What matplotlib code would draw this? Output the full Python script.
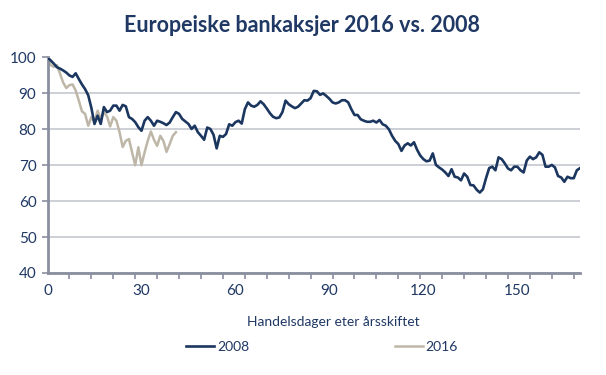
import matplotlib
matplotlib.use("Agg")
import matplotlib.pyplot as plt
from matplotlib.ticker import MultipleLocator, FixedLocator

# ---- data -----------------------------------------------------------
series_2008 = [
    100, 99.2, 98.3, 97.3, 96.9, 96.4, 95.8, 95.0, 94.6, 95.6,
    94.0, 92.5, 91.2, 89.5, 86.0, 81.5, 83.8, 81.5, 86.2, 84.8,
    85.2, 86.6, 86.6, 85.2, 86.8, 86.4, 83.4, 82.9, 82.0, 80.6,
    79.6, 82.4, 83.4, 82.4, 81.0, 82.4, 82.1, 81.7, 81.2, 81.9,
    83.4, 84.8, 84.3, 82.9, 82.2, 81.5, 80.1, 81.0, 79.2, 78.2,
    77.1, 80.5, 80.1, 78.5, 74.7, 78.2, 77.9, 78.7, 81.4, 81.0,
    82.0, 82.4, 81.6, 85.6, 87.5, 86.6, 86.3, 86.8, 87.8, 87.0,
    85.8, 84.5, 83.5, 83.1, 83.3, 84.8, 88.0, 87.0, 86.4, 85.9,
    86.3, 87.2, 88.1, 88.0, 88.7, 90.7, 90.6, 89.6, 90.0, 89.3,
    88.5, 87.5, 87.2, 87.5, 88.1, 88.1, 87.5, 85.6, 84.0, 84.0,
    82.8, 82.4, 82.1, 82.1, 82.4, 81.9, 82.6, 81.4, 81.0, 80.0,
    78.2, 76.8, 75.9, 74.0, 75.5, 76.1, 75.5, 76.4, 74.3, 72.7,
    71.7, 71.1, 71.3, 73.3, 70.1, 69.4, 68.8, 68.0, 67.0, 68.9,
    66.8, 66.6, 65.8, 67.7, 66.8, 64.5, 64.4, 63.2, 62.4, 63.3,
    66.4, 69.2, 69.6, 68.6, 72.2, 71.7, 70.5, 69.1, 68.6, 69.6,
    69.6, 68.6, 68.0, 71.3, 72.4, 71.7, 72.2, 73.6, 72.9, 69.6,
    69.6, 70.1, 69.4, 67.0, 66.6, 65.4, 66.8, 66.4, 66.4, 68.6,
    69.2,
]
series_2016 = [
    100, 97.9, 97.4, 97.9, 95.5, 93.0, 91.5, 92.3, 92.5, 90.8,
    88.0, 85.0, 84.3, 81.0, 83.4, 82.0, 85.2, 82.9, 84.8, 83.6,
    80.8, 83.4, 82.4, 79.2, 75.1, 76.8, 77.3, 73.6, 70.0, 75.0,
    70.0, 73.6, 76.8, 79.4, 77.1, 75.4, 78.2, 76.8, 73.7, 75.9,
    78.2, 79.2,
]
days_2008 = list(range(len(series_2008)))
days_2016 = list(range(len(series_2016)))

x_tick_labels = [0, 30, 60, 90, 120, 150]
y_ticks = [40, 50, 60, 70, 80, 90, 100]

title = "Europeiske bankaksjer 2016 vs. 2008"
x_label = "Handelsdager eter årsskiftet"
legend_labels = ["2008", "2016"]

# ---- style ----------------------------------------------------------
FONT = ["Lato", "DejaVu Sans"]
plt.rcParams["font.family"] = FONT
TEXT = "#1F3864"
NAVY = "#1B365F"
BEIGE = "#BEB7A8"
GRID = "#C8CBD2"
SPINE = "#8A8FA0"

fig = plt.figure(figsize=(6.06, 3.75), dpi=100)
ax = fig.add_axes([47.5 / 606, 1 - 273 / 375, (580 - 47.5) / 606, (273 - 57.5) / 375])

ax.plot(days_2008, series_2008, color=NAVY, lw=1.9, solid_joinstyle="round",
        label=legend_labels[0], zorder=3)
ax.plot(days_2016, series_2016, color=BEIGE, lw=1.8, solid_joinstyle="round",
        label=legend_labels[1], zorder=2)

ax.set_xlim(0, len(series_2008) - 1)
ax.set_ylim(40, 100)

ax.set_yticks(y_ticks)
ax.yaxis.grid(True, color=GRID, lw=1.3)
ax.set_axisbelow(True)
ax.tick_params(axis="y", length=4, width=1.2, color=SPINE, labelcolor=TEXT,
               labelsize=11, pad=4)

ax.xaxis.set_major_locator(FixedLocator(x_tick_labels))
ax.xaxis.set_minor_locator(MultipleLocator(7))
ax.tick_params(axis="x", which="major", length=0, labelcolor=TEXT,
               labelsize=11, pad=8)
ax.tick_params(axis="x", which="minor", length=4, width=1.2, color=SPINE)

for s in ["top", "right"]:
    ax.spines[s].set_visible(False)
for s in ["left", "bottom"]:
    ax.spines[s].set_color(SPINE)
    ax.spines[s].set_linewidth(2)

fig.text(302 / 606, 1 - 25 / 375, title, ha="center", va="center",
         fontsize=15.5, fontweight="bold", color=TEXT)
fig.text(333 / 606, 1 - 322 / 375, x_label, ha="center", va="center",
         fontsize=10, color=TEXT)

leg = fig.legend(loc="center", bbox_to_anchor=(322 / 606, 1 - 347 / 375),
                 ncol=2, frameon=False, fontsize=10, handlelength=2.0,
                 handletextpad=0.2, columnspacing=10.5)
for t in leg.get_texts():
    t.set_color(TEXT)

fig.savefig("out.png", dpi=100)
